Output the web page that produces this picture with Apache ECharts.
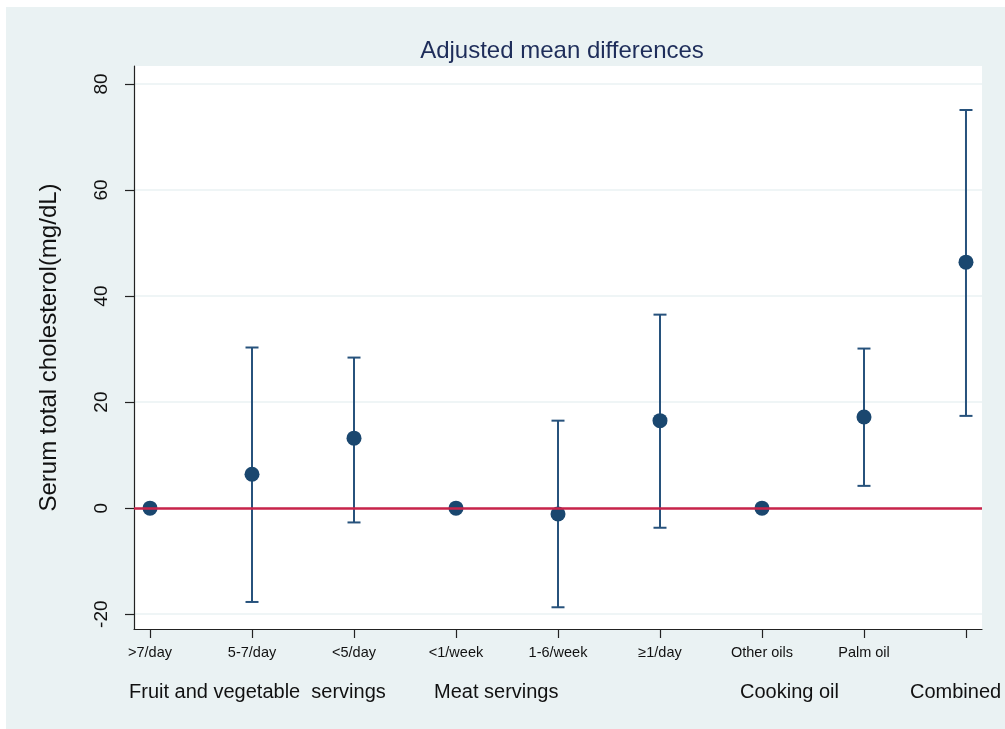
<!DOCTYPE html>
<html>
<head>
<meta charset="utf-8">
<script src="https://cdn.jsdelivr.net/npm/echarts@6/dist/echarts.min.js"></script>
<style>
  html, body { margin: 0; padding: 0; background: #ffffff; }
  #chart { position: absolute; left: 6px; top: 7px; width: 999px; height: 722px; }
</style>
</head>
<body>
<div id="chart"></div>
<script>
// Exposure categories along the horizontal axis
const categories = ['>7/day', '5-7/day', '<5/day', '<1/week', '1-6/week', '≥1/day', 'Other oils', 'Palm oil', 'Combined'];
// Tick labels printed under each category (the combined column is captioned below instead)
const tickLabels = ['>7/day', '5-7/day', '<5/day', '<1/week', '1-6/week', '≥1/day', 'Other oils', 'Palm oil', ''];
// Adjusted mean difference in serum total cholesterol (mg/dL); reference groups are 0
const meanDiff = [0, 6.4, 13.2, 0, -1.1, 16.5, 0, 17.2, 46.4];
// 95% confidence interval bounds (null for reference groups)
const ciLower = [null, -17.7, -2.7, null, -18.7, -3.7, null, 4.2, 17.4];
const ciUpper = [null, 30.3, 28.4, null, 16.5, 36.5, null, 30.1, 75.1];
// Value-axis ticks
const yTicks = [-20, 0, 20, 40, 60, 80];
// Group captions under the axis
const groupLabels = ['Fruit and vegetable  servings', 'Meat servings', 'Cooking oil', 'Combined'];

const navy = '#1a476f';
const barColor = '#27527c';
const font = '"Liberation Sans", Arial, Helvetica, sans-serif';

const xIdx = categories.map((_, i) => i);
const pointData = meanDiff.map((v, i) => [i, v]);
const ciData = [];
categories.forEach((_, i) => {
  if (ciLower[i] != null && ciUpper[i] != null) ciData.push([i, ciLower[i], ciUpper[i]]);
});

const chart = echarts.init(document.getElementById('chart'), null, { renderer: 'canvas' });

const groupX = [123, 428, 734, 904];

chart.setOption({
  backgroundColor: '#eaf2f3',
  animation: false,
  title: {
    text: 'Adjusted mean differences',
    left: 551, top: 27, textAlign: 'center',
    textStyle: { fontFamily: font, fontSize: 24, fontWeight: 'normal', color: '#1e2d5a' }
  },
  grid: {
    left: 128, right: 23, top: 59, bottom: 100,
    show: true, backgroundColor: '#ffffff', borderWidth: 0
  },
  xAxis: {
    type: 'value',
    min: -0.157, max: 8.157,
    axisLine: { show: true, onZero: false, lineStyle: { color: '#222', width: 1.2 } },
    axisTick: { show: true, customValues: xIdx, length: 9, lineStyle: { color: '#222', width: 1.2 } },
    axisLabel: {
      customValues: xIdx,
      formatter: v => tickLabels[Math.round(v)] || '',
      margin: 16, color: '#111', fontFamily: font, fontSize: 14.5
    },
    splitLine: { show: false }
  },
  yAxis: {
    type: 'value',
    min: -22.8, max: 83.4,
    name: 'Serum total cholesterol(mg/dL)',
    nameLocation: 'middle', nameRotate: 90, nameGap: 73,
    nameTextStyle: { fontFamily: font, fontSize: 24, color: '#111' },
    axisLine: { show: true, onZero: false, lineStyle: { color: '#222', width: 1.2 } },
    axisTick: { show: true, customValues: yTicks, length: 9, lineStyle: { color: '#222', width: 1.2 } },
    axisLabel: {
      customValues: yTicks, rotate: 90, margin: 23,
      color: '#111', fontFamily: font, fontSize: 19
    },
    splitLine: { show: true, customValues: yTicks, lineStyle: { color: '#eaf2f3', width: 1.5 } }
  },
  graphic: groupLabels.map((t, i) => ({
    type: 'text', left: groupX[i], top: 675,
    style: { text: t, font: '20px ' + font, fill: '#111' }
  })),
  series: [
    {
      // reference line at zero difference
      type: 'line', data: [], z: 1,
      markLine: {
        silent: true, symbol: 'none', label: { show: false },
        lineStyle: { color: '#c8234a', width: 2.5, type: 'solid' },
        data: [{ yAxis: 0 }]
      }
    },
    {
      type: 'custom', z: 2,
      data: ciData,
      renderItem: (params, api) => {
        const x = api.value(0);
        const lo = api.coord([x, api.value(1)]);
        const hi = api.coord([x, api.value(2)]);
        const hw = 6.5;
        const style = { stroke: barColor, lineWidth: 2 };
        return {
          type: 'group',
          children: [
            { type: 'line', shape: { x1: lo[0], y1: lo[1], x2: hi[0], y2: hi[1] }, style },
            { type: 'line', shape: { x1: hi[0] - hw, y1: hi[1], x2: hi[0] + hw, y2: hi[1] }, style },
            { type: 'line', shape: { x1: lo[0] - hw, y1: lo[1], x2: lo[0] + hw, y2: lo[1] }, style }
          ]
        };
      }
    },
    {
      type: 'scatter', z: 3,
      data: pointData,
      symbol: 'circle', symbolSize: 15,
      itemStyle: { color: navy, opacity: 1 }
    }
  ]
});
</script>
</body>
</html>
